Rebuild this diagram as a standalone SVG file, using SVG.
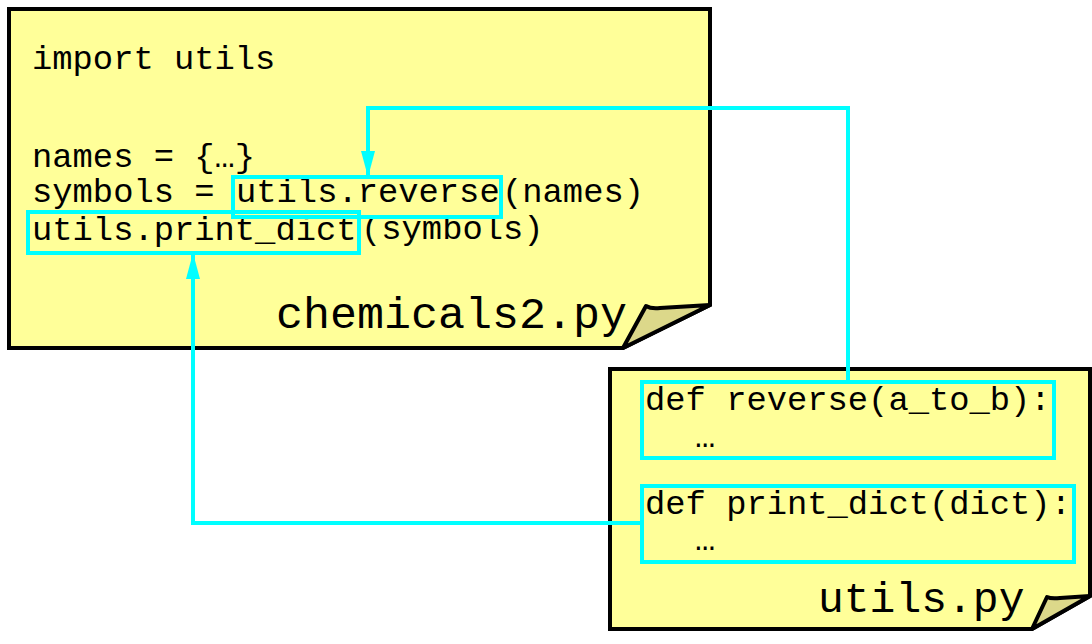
<svg xmlns="http://www.w3.org/2000/svg" width="1092" height="644" viewBox="0 0 1092 644">
<style>
.page{fill:#ffff99;stroke:#000;stroke-width:4;stroke-linejoin:miter}
.fold{fill:#dcd88a;stroke:#000;stroke-width:4;stroke-linejoin:round}
.code{font-family:"Liberation Mono","DejaVu Sans Mono",monospace;font-size:33.8px;fill:#000}
.title{font-family:"Liberation Mono","DejaVu Sans Mono",monospace;fill:#000}
.hl{fill:none;stroke:#00ffff;stroke-width:4}
.conn{fill:none;stroke:#00ffff;stroke-width:4}
</style>
<defs>
<marker id="arr" markerWidth="26" markerHeight="14" viewBox="0 0 26 14" refX="26" refY="7" orient="auto" markerUnits="userSpaceOnUse">
<path d="M0,0 L26,7 L0,14 Z" fill="#00ffff"/>
</marker>
</defs>
<rect width="1092" height="644" fill="#fff"/>
<g id="chemicals2">
<path class="page" d="M9,9 H710 V305 L623,348 H9 Z"/>
<path class="fold" d="M623,348 L646,306 Q651,309 660,308 L710,305 Z"/>
<text class="code" x="32" y="69">import utils</text>
<text class="code" x="32" y="167">names = {…}</text>
<text class="code" x="32" y="202">symbols = </text>
<text class="code" x="236" y="202">utils.reverse</text>
<text class="code" x="502" y="202">(names)</text>
<text class="code" x="32" y="240">utils.print_dict</text>
<text class="code" x="361" y="239">(symbols)</text>
<text class="title" x="276" y="328" font-size="45">chemicals2.py</text>
<rect class="hl" x="233" y="177" width="268" height="40"/>
<rect class="hl" x="28" y="212" width="331" height="41"/>
</g>
<g id="utils">
<path class="page" d="M610,369 H1090 V596 L1032,629 H610 Z"/>
<path class="fold" d="M1032,629 L1047,597 Q1051,599 1060,598 L1090,596 Z"/>
<text class="code" x="645" y="410" font-size="33.3">def reverse(a_to_b):</text>
<text class="code" x="695" y="447" font-size="33.3">…</text>
<text class="code" x="645" y="514" font-size="33.3">def print_dict(dict):</text>
<text class="code" x="695" y="550" font-size="33.3">…</text>
<text class="title" x="818" y="612" font-size="43">utils.py</text>
<rect class="hl" x="642" y="382" width="412" height="76"/>
<rect class="hl" x="642" y="486" width="432" height="76"/>
</g>
<g id="connectors">
<path class="conn" d="M848,382 V108 H368 V177" marker-end="url(#arr)"/>
<path class="conn" d="M642,523 H193 V253" marker-end="url(#arr)"/>
</g>
</svg>
